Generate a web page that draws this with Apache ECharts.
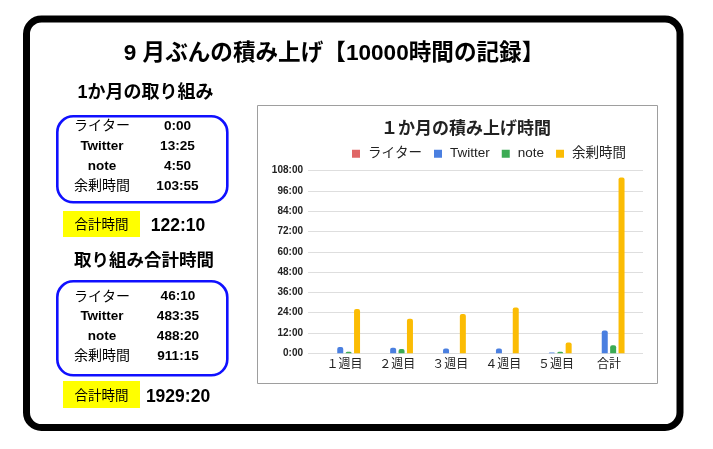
<!DOCTYPE html>
<html><head><meta charset="utf-8">
<script src="https://cdn.jsdelivr.net/npm/echarts@6/dist/echarts.min.js"></script>
<style>html,body{margin:0;padding:0;background:#fff}#c{width:713px;height:449px}</style>
</head><body><div id="c"></div>
<script>
// ---- data (hours) ----
const categories = ['１週目', '２週目', '３週目', '４週目', '５週目', '合計'];
const seriesNames = ['ライター', 'Twitter', 'note', '余剰時間'];
const writerHours = [0, 0, 0, 0, 0, 0];
const twitterHours = [3.7, 3.3, 2.9, 2.9, 0.5, 13.42];
const noteHours = [0.9, 2.5, 0, 0, 0.9, 4.83];
const surplusHours = [26.2, 20.5, 23.3, 27.1, 6.4, 103.92];
const yTicks = [0, 12, 24, 36, 48, 60, 72, 84, 96, 108];

const monthLabels = ['ライター', 'Twitter', 'note', '余剰時間'];
const monthValues = ['0:00', '13:25', '4:50', '103:55'];
const monthTotal = '122:10';
const allLabels = ['ライター', 'Twitter', 'note', '余剰時間'];
const allValues = ['46:10', '483:35', '488:20', '911:15'];
const allTotal = '1929:20';

const mainTitle = '9 月ぶんの積み上げ【10000時間の記録】';
const chartTitle = '１か月の積み上げ時間';
const heading1 = '1か月の取り組み';
const heading2 = '取り組み合計時間';
const totalLabel = '合計時間';

// ---- build ----
const FONT = "'Liberation Sans', 'Noto Sans CJK JP', sans-serif";
const colors = ['#e06666', '#4a7fe0', '#3cab54', '#fbbc04'];
const isLatin = s => /^[\x00-\x7f]+$/.test(s);

function txt(x, y, s, size, weight, extra) {
  return Object.assign({
    type: 'text', x: x, y: y,
    style: { text: s, font: (weight || 'normal') + ' ' + size + 'px ' + FONT,
      fill: '#000', align: 'center', verticalAlign: 'middle' }
  }, extra || {});
}

const g = [];
// outer frame
g.push({ type: 'rect', shape: { x: 26.5, y: 19, width: 653.5, height: 408.5, r: 15 },
  style: { fill: '#fff', stroke: '#000', lineWidth: 7 }, z: -10 });
// chart box
g.push({ type: 'rect', shape: { x: 257.5, y: 105.5, width: 400, height: 278 },
  style: { fill: 'none', stroke: '#9e9e9e', lineWidth: 1 }, z: -5 });
g.push(txt(334, 54, mainTitle, 22.6, 'bold'));
g.push(txt(145.5, 93, heading1, 18, 'bold'));
g.push(txt(144, 261, heading2, 17.5, 'bold'));
// blue boxes
g.push({ type: 'rect', shape: { x: 57.3, y: 116.3, width: 170, height: 86, r: 16 },
  style: { fill: 'none', stroke: '#1010ff', lineWidth: 2.6 } });
g.push({ type: 'rect', shape: { x: 57.3, y: 281.3, width: 170, height: 94, r: 16 },
  style: { fill: 'none', stroke: '#1010ff', lineWidth: 2.6 } });
const rows1 = [126.5, 146.5, 166.5, 186.5];
const rows2 = [296.7, 316, 336, 356];
monthLabels.forEach((s, i) => {
  g.push(txt(102, rows1[i], s, isLatin(s) ? 13.5 : 14, isLatin(s) ? 'bold' : 'normal'));
  g.push(txt(177.5, rows1[i], monthValues[i], 13.6, 'bold'));
});
allLabels.forEach((s, i) => {
  g.push(txt(102, rows2[i], s, isLatin(s) ? 13.5 : 14, isLatin(s) ? 'bold' : 'normal'));
  g.push(txt(178, rows2[i], allValues[i], 13.6, 'bold'));
});
// yellow labels
g.push({ type: 'rect', shape: { x: 63, y: 211, width: 77, height: 26 }, style: { fill: '#ffff00' } });
g.push(txt(101.5, 225.5, totalLabel, 13.5, 'normal'));
g.push(txt(178, 226, monthTotal, 17.5, 'bold'));
g.push({ type: 'rect', shape: { x: 63, y: 381, width: 77, height: 27 }, style: { fill: '#ffff00' } });
g.push(txt(101.5, 396.5, totalLabel, 13.5, 'normal'));
g.push(txt(178, 397, allTotal, 17.5, 'bold'));

const dataSets = [writerHours, twitterHours, noteHours, surplusHours];
const fmt = v => Math.round(v) + ':00';

const option = {
  animation: false,
  backgroundColor: '#fff',
  textStyle: { fontFamily: FONT },
  title: { text: chartTitle, left: 461, top: 116, textAlign: 'center',
    textStyle: { fontSize: 17, fontWeight: 'bold', color: '#222', fontFamily: FONT } },
  legend: {
    data: seriesNames, left: 347, top: 142, itemWidth: 8, itemHeight: 8, itemGap: 12,
    icon: 'rect',
    textStyle: { fontSize: 13.5, color: '#222', fontFamily: FONT, padding: [0, 0, 0, 3] }
  },
  grid: [
    { left: 308, width: 335, top: 170.7, height: 182.6 },
    { left: 318, width: 317.4, top: 170.7, height: 182.6 }
  ],
  xAxis: [
    { gridIndex: 0, type: 'category', data: categories, show: false },
    { gridIndex: 1, type: 'category', data: categories,
      axisLine: { show: false }, axisTick: { show: false },
      axisLabel: { fontSize: 12, color: '#222', margin: 5, fontFamily: FONT } }
  ],
  yAxis: [
    { gridIndex: 0, type: 'value', min: yTicks[0], max: yTicks[yTicks.length - 1], interval: yTicks[1] - yTicks[0],
      axisLine: { show: false }, axisTick: { show: false },
      axisLabel: { formatter: fmt, fontSize: 10, fontWeight: 'bold', color: '#222', margin: 5, fontFamily: FONT },
      splitLine: { lineStyle: { color: '#dedede', width: 1 } } },
    { gridIndex: 1, type: 'value', min: yTicks[0], max: yTicks[yTicks.length - 1], show: false }
  ],
  series: seriesNames.map((n, i) => ({
    name: n, type: 'bar', xAxisIndex: 1, yAxisIndex: 1,
    data: dataSets[i], barWidth: 6, barGap: '40%',
    itemStyle: { color: colors[i], borderRadius: [2, 2, 0, 0] }
  })),
  graphic: { elements: g }
};
const chart = echarts.init(document.getElementById('c'));
chart.setOption(option);
</script></body></html>
